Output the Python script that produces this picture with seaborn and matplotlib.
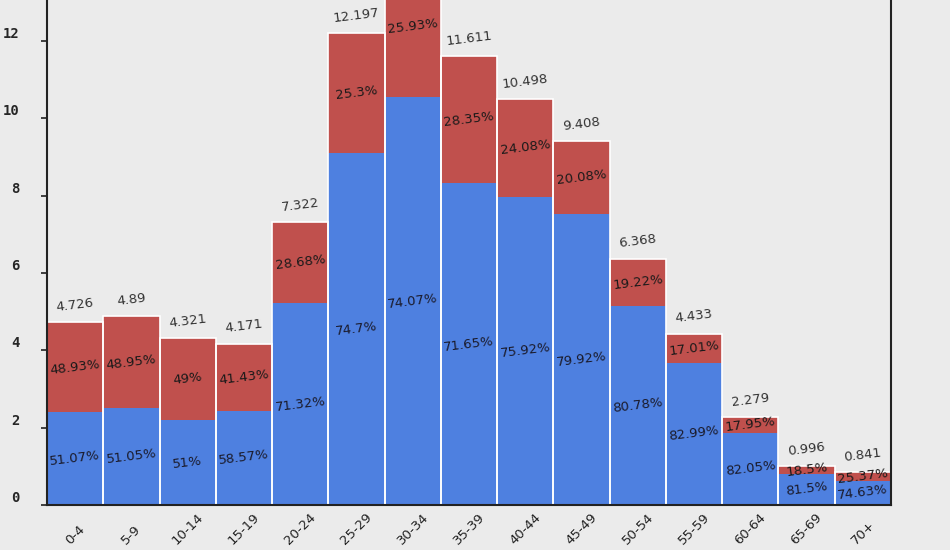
import numpy as np
import pandas as pd
import matplotlib
matplotlib.use('Agg')
import matplotlib.pyplot as plt
import seaborn as sns

age_groups = ['0-4', '5-9', '10-14', '15-19', '20-24', '25-29', '30-34', '35-39',
              '40-44', '45-49', '50-54', '55-59', '60-64', '65-69', '70+']
totals = [4.726, 4.89, 4.321, 4.171, 7.322, 12.197, 14.23, 11.611,
          10.498, 9.408, 6.368, 4.433, 2.279, 0.996, 0.841]
blue_pct = [51.07, 51.05, 51, 58.57, 71.32, 74.7, 74.07, 71.65,
            75.92, 79.92, 80.78, 82.99, 82.05, 81.5, 74.63]
red_pct = [48.93, 48.95, 49, 41.43, 28.68, 25.3, 25.93, 28.35,
           24.08, 20.08, 19.22, 17.01, 17.95, 18.5, 25.37]
y_ticks = [0, 2, 4, 6, 8, 10, 12]

BLUE = '#4e80e0'
RED = '#c0504d'
BG = '#ebebeb'


def draw_chart():
    df = pd.DataFrame({'age': age_groups, 'total': totals,
                       'blue_pct': blue_pct, 'red_pct': red_pct})
    df['blue'] = df['total'] * df['blue_pct'] / 100

    sns.set_style('white')
    fig = plt.figure(figsize=(9.5, 5.5), dpi=100, facecolor=BG)
    ax = fig.add_axes([47 / 950, 1 - 505 / 550, 844 / 950, 505 / 550])
    ax.set_facecolor(BG)

    sns.barplot(data=df, x='age', y='total', color=RED, width=1,
                linewidth=0, saturation=1, ax=ax)
    sns.barplot(data=df, x='age', y='blue', color=BLUE, width=1,
                linewidth=0, saturation=1, ax=ax)
    # white outline around each full bar
    sns.barplot(data=df, x='age', y='total', color='white', width=1,
                fill=False, linewidth=1.2, ax=ax)

    rot = 7
    for i, row in df.iterrows():
        ax.text(i, row['blue'] / 2, f"{row['blue_pct']:g}%", ha='center', va='center',
                rotation=rot, fontsize=9.5, color='#1a1a2a')
        ax.text(i, (row['blue'] + row['total']) / 2, f"{row['red_pct']:g}%", ha='center',
                va='center', rotation=rot, fontsize=9.5, color='#1a1a1a')
        ax.annotate(f"{row['total']:g}", (i, row['total']), xytext=(0, 6),
                    textcoords='offset points', ha='center', va='bottom',
                    rotation=rot, fontsize=9.5, color='#333333')

    ax.set_xlim(-0.5, len(age_groups) - 0.5)
    ax.set_ylim(0, 13.06)
    ax.set_xlabel('')
    ax.set_ylabel('')

    ax.set_yticks(y_ticks)
    ax.set_yticklabels([str(t) for t in y_ticks], fontfamily='DejaVu Sans Mono',
                       fontweight='bold', fontsize=10, va='bottom')
    ax.tick_params(axis='y', direction='out', length=4, width=1.2, color='#222222', pad=16,
                   left=True)
    ax.tick_params(axis='x', length=0, pad=30)
    for lbl in ax.get_xticklabels():
        lbl.set_rotation(45)
        lbl.set_ha('center')
        lbl.set_va('bottom')
        lbl.set_fontsize(9.5)
        lbl.set_color('#222222')

    for side in ['left', 'right', 'bottom']:
        ax.spines[side].set_visible(True)
        ax.spines[side].set_color('#222222')
        ax.spines[side].set_linewidth(1.5)
    ax.spines['top'].set_visible(False)

    fig.savefig('out.png', dpi=100, facecolor=BG)


if __name__ == "__main__":
    draw_chart()
